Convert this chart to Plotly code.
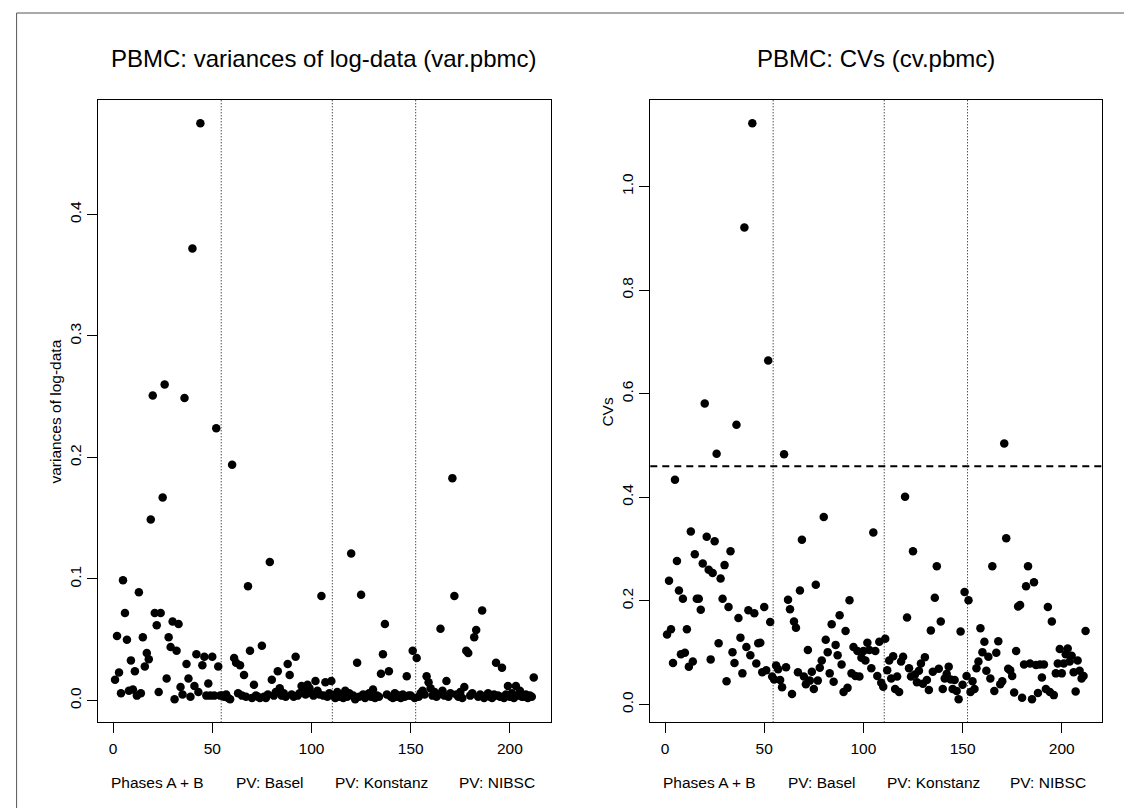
import plotly.graph_objects as go

# ---------------- data ----------------
var_pbmc = [
    0.017, 0.053, 0.023, 0.006, 0.099, 0.072, 0.050, 0.008, 0.033, 0.009,
    0.024, 0.004, 0.089, 0.006, 0.052, 0.028, 0.039, 0.034, 0.149, 0.251,
    0.072, 0.062, 0.007, 0.072, 0.167, 0.260, 0.018, 0.052, 0.044, 0.065,
    0.001, 0.041, 0.063, 0.011, 0.005, 0.249, 0.030, 0.018, 0.003, 0.372,
    0.012, 0.038, 0.007, 0.475, 0.029, 0.036, 0.004, 0.014, 0.004, 0.036,
    0.004, 0.224, 0.028, 0.004, 0.004, 0.003, 0.005, 0.002, 0.001, 0.194,
    0.035, 0.031, 0.006, 0.029, 0.004, 0.021, 0.003, 0.094, 0.041, 0.002,
    0.013, 0.004, 0.003, 0.002, 0.045, 0.003, 0.002, 0.005, 0.114, 0.017,
    0.004, 0.007, 0.024, 0.010, 0.004, 0.006, 0.003, 0.030, 0.021, 0.005,
    0.003, 0.036, 0.004, 0.006, 0.012, 0.008, 0.005, 0.013, 0.010, 0.006,
    0.004, 0.016, 0.008, 0.005, 0.086, 0.004, 0.015, 0.003, 0.006, 0.016,
    0.004, 0.002, 0.007, 0.003, 0.005, 0.002, 0.008, 0.003, 0.006, 0.121,
    0.004, 0.001, 0.031, 0.003, 0.087, 0.005, 0.002, 0.004, 0.006, 0.003,
    0.009, 0.002, 0.004, 0.003, 0.022, 0.038, 0.063, 0.005, 0.024, 0.003,
    0.002, 0.006, 0.003, 0.004, 0.002, 0.005, 0.003, 0.020, 0.004, 0.004,
    0.041, 0.002, 0.035, 0.003, 0.006, 0.008, 0.005, 0.020, 0.015, 0.010,
    0.004, 0.007, 0.003, 0.005, 0.059, 0.008, 0.004, 0.016, 0.003, 0.006,
    0.183, 0.086, 0.005, 0.003, 0.007, 0.002, 0.011, 0.041, 0.039, 0.004,
    0.006, 0.052, 0.058, 0.003, 0.005, 0.074, 0.002, 0.004, 0.006, 0.003,
    0.002, 0.005, 0.031, 0.004, 0.003, 0.027, 0.002, 0.005, 0.012, 0.003,
    0.006, 0.002, 0.012, 0.004, 0.008, 0.003, 0.003, 0.005, 0.002, 0.004,
    0.003, 0.019,
]

cv_pbmc = [
    0.135, 0.239, 0.145, 0.080, 0.434, 0.277, 0.220, 0.097, 0.204, 0.100,
    0.145, 0.073, 0.334, 0.083, 0.290, 0.204, 0.204, 0.183, 0.272, 0.581,
    0.324, 0.260, 0.087, 0.254, 0.315, 0.484, 0.118, 0.243, 0.204, 0.269,
    0.045, 0.188, 0.296, 0.101, 0.080, 0.540, 0.167, 0.129, 0.060, 0.921,
    0.111, 0.182, 0.095, 1.122, 0.176, 0.079, 0.118, 0.119, 0.062, 0.188,
    0.066, 0.664, 0.159, 0.054, 0.048, 0.075, 0.068, 0.047, 0.033, 0.483,
    0.072, 0.202, 0.184, 0.020, 0.160, 0.148, 0.062, 0.220, 0.318, 0.054,
    0.039, 0.105, 0.046, 0.063, 0.030, 0.231, 0.046, 0.071, 0.085, 0.362,
    0.125, 0.101, 0.060, 0.155, 0.044, 0.115, 0.095, 0.172, 0.077, 0.024,
    0.142, 0.032, 0.201, 0.060, 0.111, 0.055, 0.103, 0.054, 0.090, 0.103,
    0.085, 0.119, 0.105, 0.070, 0.332, 0.103, 0.055, 0.121, 0.042, 0.034,
    0.127, 0.066, 0.085, 0.050, 0.093, 0.030, 0.054, 0.024, 0.083, 0.092,
    0.401, 0.168, 0.070, 0.054, 0.296, 0.058, 0.043, 0.065, 0.079, 0.040,
    0.091, 0.047, 0.028, 0.143, 0.063, 0.206, 0.267, 0.069, 0.160, 0.030,
    0.050, 0.059, 0.073, 0.048, 0.030, 0.047, 0.026, 0.010, 0.141, 0.038,
    0.217, 0.055, 0.201, 0.024, 0.045, 0.030, 0.070, 0.083, 0.147, 0.101,
    0.121, 0.065, 0.092, 0.050, 0.267, 0.026, 0.100, 0.122, 0.039, 0.045,
    0.504, 0.321, 0.069, 0.066, 0.055, 0.023, 0.103, 0.189, 0.192, 0.013,
    0.077, 0.228, 0.267, 0.079, 0.010, 0.236, 0.076, 0.022, 0.077, 0.052,
    0.077, 0.030, 0.188, 0.024, 0.160, 0.018, 0.060, 0.079, 0.107, 0.060,
    0.079, 0.097, 0.108, 0.083, 0.094, 0.062, 0.025, 0.085, 0.065, 0.050,
    0.055, 0.142,
]

index = list(range(1, len(var_pbmc) + 1))

group_breaks = [54.5, 110.5, 152.5]
group_labels = ["Phases A + B", "PV: Basel", "PV: Konstanz", "PV: NIBSC"]
group_label_x = [22.6, 79.3, 135.1, 193.3]
cv_cutoff = 0.46

x_ticks = [0, 50, 100, 150, 200]
var_ticks = [0.0, 0.1, 0.2, 0.3, 0.4]
cv_ticks = [0.0, 0.2, 0.4, 0.6, 0.8, 1.0]

titles = ["PBMC: variances of log-data (var.pbmc)", "PBMC: CVs (cv.pbmc)"]
ylabels = ["variances of log-data", "CVs"]

# ---------------- layout geometry (pixels) ----------------
W, H = 1132, 808
FONT = "Liberation Sans, Arial, Helvetica, sans-serif"
box_left = [90.3, 642.3]
box_right = [542.5, 1094.3]
box_top, box_bottom = 92.3, 714.3


def px_x(p):
    return p / W


def px_y(p):
    return 1 - p / H


def r_range(vals):
    lo, hi = min(vals), max(vals)
    d = hi - lo
    return [lo - 0.04 * d, hi + 0.04 * d]


fig = go.Figure()
panels = [(var_pbmc, var_ticks), (cv_pbmc, cv_ticks)]
shapes = []
annotations = []

for i, (vals, yt) in enumerate(panels):
    xa = "x" if i == 0 else "x2"
    ya = "y" if i == 0 else "y2"
    fig.add_trace(go.Scatter(
        x=index, y=vals, mode="markers",
        marker=dict(color="black", size=8.5, line=dict(width=0)),
        xaxis=xa, yaxis=ya, showlegend=False, hoverinfo="skip",
    ))
    axis_common = dict(
        showline=True, mirror=True, linecolor="black", linewidth=1,
        ticks="outside", ticklen=10, tickwidth=1, tickcolor="black",
        showgrid=False, zeroline=False,
        tickfont=dict(family=FONT, size=15.5, color="black"),
    )
    xkey = "xaxis" if i == 0 else "xaxis2"
    ykey = "yaxis" if i == 0 else "yaxis2"
    fig.update_layout(**{
        xkey: dict(axis_common,
                   domain=[px_x(box_left[i]), px_x(box_right[i])],
                   range=r_range(index), tickvals=x_ticks,
                   ticktext=[str(t) for t in x_ticks],
                   anchor=ya, ticklabelstandoff=2),
        ykey: dict(axis_common,
                   domain=[px_y(box_bottom), px_y(box_top)],
                   range=r_range(vals), tickvals=yt,
                   ticktext=[f"{t:.1f}" for t in yt],
                   tickangle=-90, anchor=xa),
    })
    # dotted separators between groups
    for b in group_breaks:
        shapes.append(dict(type="line", xref=xa, yref=f"{ya} domain",
                           x0=b, x1=b, y0=0, y1=1,
                           line=dict(color="black", width=1, dash="1px,2px")))
    # group labels below the x axis
    for lab, gx in zip(group_labels, group_label_x):
        annotations.append(dict(text=lab, xref=xa, yref="paper", x=gx,
                                y=px_y(774), xanchor="center", yanchor="middle",
                                showarrow=False,
                                font=dict(family=FONT, size=15.5, color="black")))
    # title, centred over the plotting box
    annotations.append(dict(text=titles[i], xref="paper", yref="paper",
                            x=px_x((box_left[i] + box_right[i]) / 2), y=px_y(51),
                            xanchor="center", yanchor="middle", showarrow=False,
                            font=dict(family=FONT, size=24, color="black")))
    # y-axis label
    annotations.append(dict(text=ylabels[i], xref="paper", yref="paper",
                            x=px_x(box_left[i] - 43), y=px_y((box_top + box_bottom) / 2),
                            xanchor="center", yanchor="middle", textangle=-90,
                            showarrow=False,
                            font=dict(family=FONT, size=15.5, color="black")))

# dashed cut-off line on CV panel
shapes.append(dict(type="line", xref="x2 domain", yref="y2",
                   x0=0, x1=1, y0=cv_cutoff, y1=cv_cutoff,
                   line=dict(color="black", width=2, dash="7px,5px")))

# thin outer frame edges (left and top) seen in the reference
shapes.append(dict(type="line", xref="paper", yref="paper",
                   x0=px_x(8.6), x1=px_x(8.6), y0=px_y(805), y1=px_y(5),
                   line=dict(color="#555555", width=1)))
shapes.append(dict(type="line", xref="paper", yref="paper",
                   x0=px_x(8.6), x1=1, y0=px_y(5), y1=px_y(5),
                   line=dict(color="#555555", width=1)))

fig.update_layout(
    width=W, height=H,
    margin=dict(l=0, r=0, t=0, b=0),
    paper_bgcolor="white", plot_bgcolor="white",
    shapes=shapes, annotations=annotations,
    font=dict(family=FONT, color="black"),
)

fig.write_html("out.html")
